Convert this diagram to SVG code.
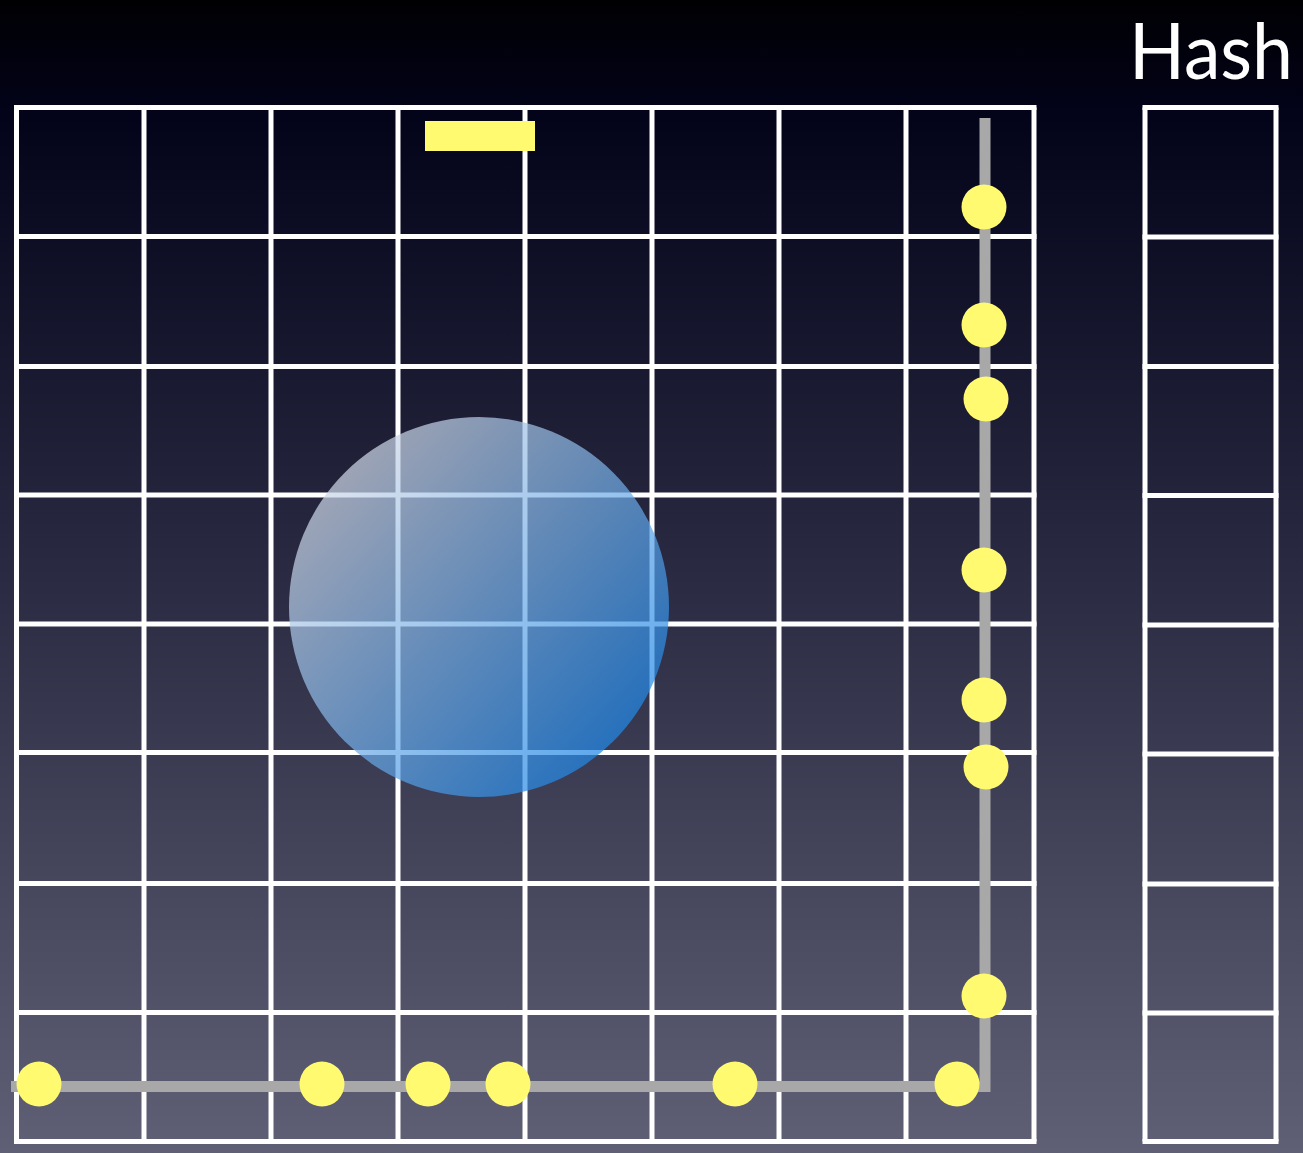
<svg xmlns="http://www.w3.org/2000/svg" width="1303" height="1153" viewBox="0 0 1303 1153">
<defs>
<linearGradient id="bg" x1="0" y1="0" x2="0" y2="1">
<stop offset="0" stop-color="#000003"/>
<stop offset="0.1" stop-color="#03031a"/>
<stop offset="0.5" stop-color="#2a2a42"/>
<stop offset="1" stop-color="#5f5f75"/>
</linearGradient>
<linearGradient id="ball" x1="0.15" y1="0.15" x2="0.85" y2="0.85">
<stop offset="0" stop-color="#ccd6e6"/>
<stop offset="1" stop-color="#2288e6"/>
</linearGradient>
<style>
.g{stroke:#ffffff;stroke-width:5;fill:none}
.path{stroke:#a8a8a8;stroke-width:11;fill:none}
.dot{fill:#fffa70}
.lbl{font-family:Lato,"Open Sans","Liberation Sans",sans-serif;font-size:78px;fill:#ffffff}
</style>
</defs>
<rect x="0" y="0" width="1303" height="1153" fill="url(#bg)"/>
<g id="grid">
<path class="g" d="M16.5,107.5V1141.5M144,107.5V1141.5M271,107.5V1141.5M398,107.5V1141.5M525,107.5V1141.5M652,107.5V1141.5M779,107.5V1141.5M906,107.5V1141.5M1034,107.5V1141.5"/>
<path class="g" d="M14,107.5H1036.5M14,236.5H1036.5M14,366.5H1036.5M14,495H1036.5M14,624H1036.5M14,752.5H1036.5M14,883.5H1036.5M14,1012.5H1036.5M14,1141.5H1036.5"/>
</g>
<g id="hash">
<text class="lbl" x="1129" y="79" textLength="164" lengthAdjust="spacingAndGlyphs">Hash</text>
<path class="g" d="M1145,107.5V1141.5M1276,107.5V1141.5"/>
<path class="g" d="M1142.5,107.5H1278.5M1142.5,237H1278.5M1142.5,366.5H1278.5M1142.5,495.5H1278.5M1142.5,625H1278.5M1142.5,754H1278.5M1142.5,884H1278.5M1142.5,1013H1278.5M1142.5,1141.5H1278.5"/>
</g>
<g id="ball-node">
<circle cx="479" cy="607" r="190" fill="url(#ball)" opacity="0.72"/>
</g>
<g id="connectors">
<path class="path" d="M985,118V1086.5H11"/>
</g>
<g id="marker">
<rect x="425" y="121" width="110" height="30" fill="#fffa70"/>
</g>
<g id="dots">
<circle class="dot" cx="984" cy="207" r="22.5"/>
<circle class="dot" cx="984" cy="325" r="22.5"/>
<circle class="dot" cx="986" cy="399" r="22.5"/>
<circle class="dot" cx="984" cy="570" r="22.5"/>
<circle class="dot" cx="984" cy="700" r="22.5"/>
<circle class="dot" cx="986" cy="767" r="22.5"/>
<circle class="dot" cx="984" cy="996" r="22.5"/>
<circle class="dot" cx="957" cy="1084" r="22.5"/>
<circle class="dot" cx="735" cy="1084" r="22.5"/>
<circle class="dot" cx="508" cy="1084" r="22.5"/>
<circle class="dot" cx="428" cy="1084" r="22.5"/>
<circle class="dot" cx="322" cy="1084" r="22.5"/>
<circle class="dot" cx="39" cy="1084" r="22.5"/>
</g>
</svg>
